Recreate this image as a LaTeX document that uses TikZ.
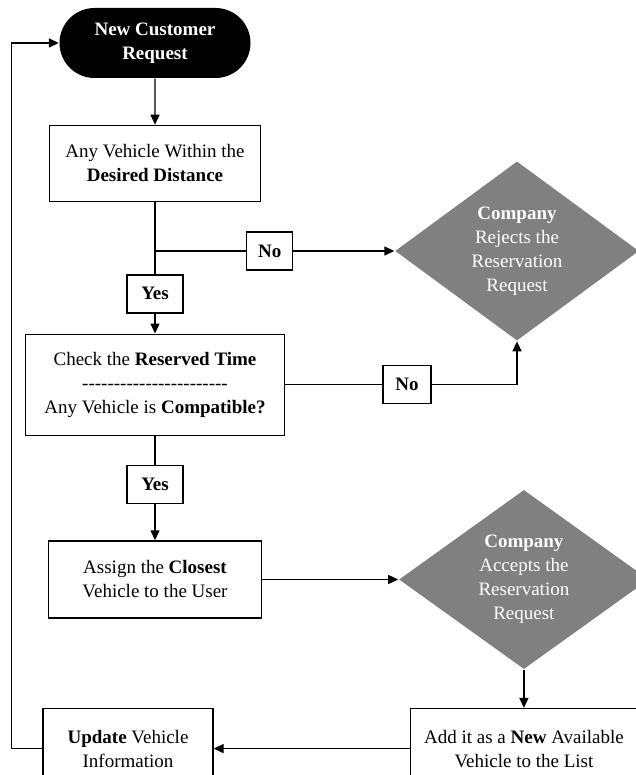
\documentclass[tikz,border=0pt]{standalone}
\usepackage{fontspec}
\setmainfont{Liberation Serif}
\usetikzlibrary{positioning, shapes, arrows.meta}
\tikzstyle{base} = [text centered, align=center, inner sep=0pt, line width=1.4pt,
 font=\fontsize{19}{24}\selectfont]
\tikzstyle{terminal} = [base, rounded rectangle, fill=black, text=white,
 minimum width=191pt, minimum height=70pt, font=\fontsize{19}{24}\selectfont\bfseries]
\tikzstyle{process} = [base, rectangle, draw=black, fill=white]
\tikzstyle{decision} = [base, diamond, fill=gray, text=white]
\tikzstyle{answer} = [base, rectangle, draw=black, fill=white, minimum height=38pt,
 font=\fontsize{19}{24}\selectfont\bfseries]
\tikzstyle{arrow} = [line width=1.4pt, -{Triangle[length=10pt, width=9pt]}]
\tikzstyle{line} = [line width=1.4pt]
\newcommand\dashrow{\foreach \k in {1,...,23}{\mbox{-}}}

\begin{document}
\begin{tikzpicture}[x=1pt, y=1pt]

\useasboundingbox (0,0) rectangle (636,-775);
\clip (0,0) rectangle (636,-775);

\node (START) [terminal] at (155,-43) {New Customer\\Request};

\node (DISTANCE) [process, minimum width=211pt, minimum height=76pt,
    below=46pt of START] {Any Vehicle Within the\\\textbf{Desired Distance}};

\node (YES1) [answer, minimum width=56pt, below=72pt of DISTANCE] {Yes};

\node (CHECK) [process, minimum width=259pt, minimum height=101pt,
    below=20pt of YES1] {Check the \textbf{Reserved Time}\\\dashrow\\Any
    Vehicle is \textbf{Compatible?}};

\node (YES2) [answer, minimum width=56pt, below=29pt of CHECK] {Yes};

\node (ASSIGN) [process, minimum width=213pt, minimum height=77pt,
    below=36pt of YES2] {Assign the \textbf{Closest}\\Vehicle to the User};

\node (REJECT) [decision, minimum width=244pt, minimum height=162pt] at (517,-251)
    {\textbf{Company}\\Rejects the\\Reservation\\Request};

\coordinate (SPLIT) at (DISTANCE.south |- REJECT.west);
\node (NO1) [answer, minimum width=46pt, right=91pt of SPLIT] {No};
\node (NO2) [answer, minimum width=48pt, right=97pt of CHECK] {No};

\node (ACCEPT) [decision, minimum width=250pt, minimum height=179pt,
    right=136pt of ASSIGN] {\textbf{Company}\\Accepts the\\Reservation\\Request};

\node (ADD) [process, minimum width=227pt, minimum height=80pt,
    below=38pt of ACCEPT] {Add it as a \textbf{New} Available\\Vehicle to the List};
\node (UPDATE) [process, minimum width=170pt, minimum height=80pt,
    left=196pt of ADD] {\textbf{Update} Vehicle\\Information};

% Arrows
\draw[arrow] (START) -- (DISTANCE);
\draw[line] (DISTANCE) -- (YES1);
\draw[line] (SPLIT) -- (NO1);
\draw[arrow] (NO1) -- (REJECT.west);
\draw[arrow] (YES1) -- (CHECK);

\draw[line] (CHECK) -- (NO2);
\draw[arrow] (NO2.east) -| (REJECT.south);

\draw[line] (CHECK) -- (YES2);
\draw[arrow] (YES2) -- (ASSIGN);
\draw[arrow] (ASSIGN) -- (ACCEPT.west);
\draw[arrow] (ACCEPT.south) -- (ADD);
\draw[arrow] (ADD) -- (UPDATE);
\draw[arrow] (UPDATE.west) -- ++(-31pt,0) |- (START.west);

\end{tikzpicture}
\end{document}
